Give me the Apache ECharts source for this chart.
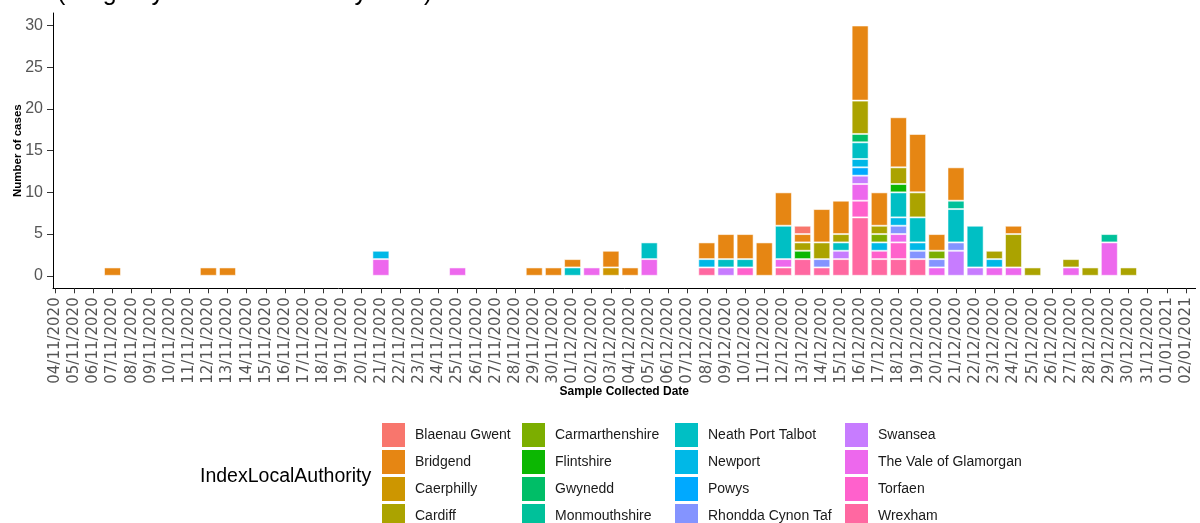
<!DOCTYPE html>
<html>
<head>
<meta charset="utf-8">
<script src="https://cdn.jsdelivr.net/npm/echarts@6.0.0/dist/echarts.min.js"></script>
<style>
  html, body { margin: 0; padding: 0; background: #fff; }
  #main { width: 1200px; height: 523px; }
</style>
</head>
<body>
<div id="main"></div>
<script>
// sample collected dates, one per day
var dates = [
  '04/11/2020', '05/11/2020', '06/11/2020', '07/11/2020', '08/11/2020', '09/11/2020',
  '10/11/2020', '11/11/2020', '12/11/2020', '13/11/2020', '14/11/2020', '15/11/2020',
  '16/11/2020', '17/11/2020', '18/11/2020', '19/11/2020', '20/11/2020', '21/11/2020',
  '22/11/2020', '23/11/2020', '24/11/2020', '25/11/2020', '26/11/2020', '27/11/2020',
  '28/11/2020', '29/11/2020', '30/11/2020', '01/12/2020', '02/12/2020', '03/12/2020',
  '04/12/2020', '05/12/2020', '06/12/2020', '07/12/2020', '08/12/2020', '09/12/2020',
  '10/12/2020', '11/12/2020', '12/12/2020', '13/12/2020', '14/12/2020', '15/12/2020',
  '16/12/2020', '17/12/2020', '18/12/2020', '19/12/2020', '20/12/2020', '21/12/2020',
  '22/12/2020', '23/12/2020', '24/12/2020', '25/12/2020', '26/12/2020', '27/12/2020',
  '28/12/2020', '29/12/2020', '30/12/2020', '31/12/2020', '01/01/2021', '02/01/2021'
];

var yTicks = [0, 5, 10, 15, 20, 25, 30];

var authorities = [
  'Blaenau Gwent', 'Bridgend', 'Caerphilly', 'Cardiff',
  'Carmarthenshire', 'Flintshire', 'Gwynedd', 'Monmouthshire',
  'Neath Port Talbot', 'Newport', 'Powys', 'Rhondda Cynon Taf',
  'Swansea', 'The Vale of Glamorgan', 'Torfaen', 'Wrexham'
];

var colours = [
  '#F8766D', '#E68613', '#CD9600', '#ABA300',
  '#7CAE00', '#0CB702', '#00BE67', '#00C19A',
  '#00BFC4', '#00B8E7', '#00A9FF', '#8494FF',
  '#C77CFF', '#ED68ED', '#FF61CC', '#FF68A1'
];

// cases per day, [date, count]
var blaenauGwent = [['13/12/2020', 1]];
var bridgend = [
  ['07/11/2020', 1], ['12/11/2020', 1], ['13/11/2020', 1], ['29/11/2020', 1], ['30/11/2020', 1],
  ['01/12/2020', 1], ['03/12/2020', 2], ['04/12/2020', 1], ['08/12/2020', 2], ['09/12/2020', 3],
  ['10/12/2020', 3], ['11/12/2020', 4], ['12/12/2020', 4], ['13/12/2020', 1], ['14/12/2020', 4],
  ['15/12/2020', 4], ['16/12/2020', 9], ['17/12/2020', 4], ['18/12/2020', 6], ['19/12/2020', 7],
  ['20/12/2020', 2], ['21/12/2020', 4], ['24/12/2020', 1]
];
var caerphilly = [['03/12/2020', 1]];
var cardiff = [
  ['13/12/2020', 1], ['14/12/2020', 2], ['15/12/2020', 1], ['16/12/2020', 4], ['17/12/2020', 1],
  ['18/12/2020', 2], ['19/12/2020', 3], ['23/12/2020', 1], ['24/12/2020', 4], ['25/12/2020', 1],
  ['27/12/2020', 1], ['28/12/2020', 1], ['30/12/2020', 1]
];
var carmarthenshire = [['17/12/2020', 1], ['20/12/2020', 1]];
var flintshire = [['13/12/2020', 1], ['18/12/2020', 1]];
var gwynedd = [['16/12/2020', 1]];
var monmouthshire = [['21/12/2020', 1], ['29/12/2020', 1]];
var neathPortTalbot = [
  ['01/12/2020', 1], ['05/12/2020', 2], ['09/12/2020', 1], ['10/12/2020', 1], ['12/12/2020', 4],
  ['15/12/2020', 1], ['16/12/2020', 2], ['18/12/2020', 3], ['19/12/2020', 3], ['21/12/2020', 4],
  ['22/12/2020', 5]
];
var newport = [
  ['21/11/2020', 1], ['08/12/2020', 1], ['16/12/2020', 1], ['17/12/2020', 1], ['18/12/2020', 1],
  ['19/12/2020', 1], ['23/12/2020', 1]
];
var powys = [['16/12/2020', 1]];
var rhonddaCynonTaf = [
  ['14/12/2020', 1], ['18/12/2020', 1], ['19/12/2020', 1], ['20/12/2020', 1], ['21/12/2020', 1]
];
var swansea = [
  ['09/12/2020', 1], ['15/12/2020', 1], ['16/12/2020', 1], ['21/12/2020', 3], ['22/12/2020', 1]
];
var valeOfGlamorgan = [
  ['21/11/2020', 2], ['25/11/2020', 1], ['02/12/2020', 1], ['05/12/2020', 2], ['12/12/2020', 1],
  ['16/12/2020', 2], ['18/12/2020', 1], ['20/12/2020', 1], ['23/12/2020', 1], ['24/12/2020', 1],
  ['27/12/2020', 1], ['29/12/2020', 4]
];
var torfaen = [['10/12/2020', 1], ['16/12/2020', 2], ['17/12/2020', 1], ['18/12/2020', 2]];
var wrexham = [
  ['08/12/2020', 1], ['12/12/2020', 1], ['13/12/2020', 2], ['14/12/2020', 1], ['15/12/2020', 2],
  ['16/12/2020', 7], ['17/12/2020', 2], ['18/12/2020', 2], ['19/12/2020', 2]
];

var cases = [
  blaenauGwent, bridgend, caerphilly, cardiff,
  carmarthenshire, flintshire, gwynedd, monmouthshire,
  neathPortTalbot, newport, powys, rhonddaCynonTaf,
  swansea, valeOfGlamorgan, torfaen, wrexham
];

var dayIdx = dates.map(function (d, i) { return i; });

// one slot per day, stored as [count, day] so the count column is the one stacked
function fullRow(pairs) {
  var row = dates.map(function (d, i) { return [null, i]; });
  pairs.forEach(function (p) {
    row[dates.indexOf(p[0])][0] = p[1];
  });
  return row;
}

// ggplot stacks the first level on top, so push them in reverse
var series = [];
for (var k = authorities.length - 1; k >= 0; k--) {
  series.push({
    name: authorities[k],
    type: 'bar',
    stack: 'cases',
    barWidth: 17,
    silent: true,
    encode: { x: 1, y: 0 },
    itemStyle: {
      color: colours[k],
      borderColor: 'rgba(255,255,255,0.55)',
      borderWidth: 1
    },
    data: fullRow(cases[k])
  });
}

// legend: 4 columns of 4, column-major like ggplot
var legendX = [382, 522, 675, 845];
var legends = legendX.map(function (x, c) {
  return {
    orient: 'vertical',
    left: x,
    top: 423,
    height: 140,
    padding: 0,
    itemWidth: 23,
    itemHeight: 24,
    itemGap: 3,
    icon: 'rect',
    selectedMode: false,
    itemStyle: { borderWidth: 0 },
    textStyle: {
      fontFamily: 'Liberation Sans',
      fontSize: 14,
      color: '#1a1a1a',
      padding: [0, 0, 0, 5]
    },
    data: authorities.slice(c * 4, c * 4 + 4)
  };
});

var chart = echarts.init(document.getElementById('main'), null, { renderer: 'canvas' });

var option = {
  animation: false,
  backgroundColor: '#fff',
  grid: { left: 53, right: 4.4, top: 13, bottom: 234.7 },
  legend: legends,
  graphic: [
    {
      type: 'text',
      left: 57,
      top: -19,
      style: {
        text: '(Stage by the local authority area)',
        font: '25px "Liberation Sans"',
        fill: '#000'
      }
    },
    {
      type: 'text',
      x: 200,
      y: 477,
      style: {
        text: 'IndexLocalAuthority',
        font: '19.5px "Liberation Sans"',
        fill: '#000',
        verticalAlign: 'middle'
      }
    }
  ],
  xAxis: {
    type: 'value',
    min: -0.104,
    max: 59.5,
    name: 'Sample Collected Date',
    nameLocation: 'middle',
    nameGap: 97,
    nameMoveOverlap: false,
    nameTextStyle: { fontFamily: 'Liberation Sans', fontWeight: 'bold', fontSize: 12, color: '#000' },
    splitLine: { show: false },
    axisLine: { show: true, onZero: false, lineStyle: { color: '#000', width: 1 } },
    axisTick: { show: true, length: 5, customValues: dayIdx, lineStyle: { color: '#333' } },
    axisLabel: {
      customValues: dayIdx,
      rotate: 90,
      margin: 9,
      fontFamily: 'DejaVu Sans',
      fontSize: 15,
      color: '#555',
      hideOverlap: false,
      formatter: function (v) { return dates[Math.round(v)] || ''; }
    }
  },
  yAxis: {
    type: 'value',
    min: -1.5,
    max: 31.5,
    name: 'Number of cases',
    nameLocation: 'middle',
    nameGap: 29,
    nameMoveOverlap: false,
    nameTextStyle: { fontFamily: 'Liberation Sans', fontWeight: 'bold', fontSize: 11.5, color: '#000' },
    splitLine: { show: false },
    axisLine: { show: true, onZero: false, lineStyle: { color: '#000', width: 1 } },
    axisTick: { show: true, length: 6, customValues: yTicks, lineStyle: { color: '#333' } },
    axisLabel: {
      customValues: yTicks,
      margin: 10,
      fontFamily: 'Liberation Sans',
      fontSize: 16,
      color: '#555'
    }
  },
  series: series
};

chart.setOption(option);
</script>
</body>
</html>
